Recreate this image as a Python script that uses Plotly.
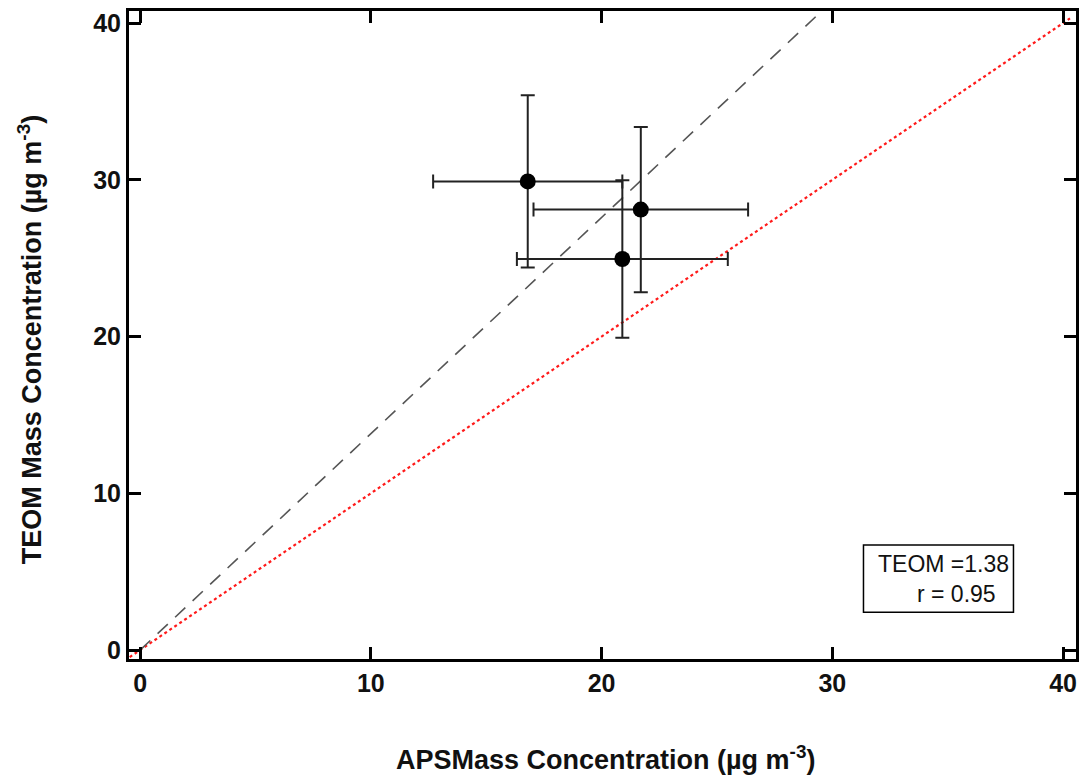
import plotly.graph_objects as go

# Data
aps_mass = [16.8, 21.7, 20.9]
teom_mass = [29.9, 28.1, 24.95]
aps_err = [4.1, 4.65, 4.57]
teom_err = [5.5, 5.27, 5.03]
slope = 1.38
r_value = 0.95
line_x = [-0.45, 40.3]
fit_x = [0.0, 29.6]
tick_vals = [0, 10, 20, 30, 40]

fig = go.Figure()

# 1:1 red dotted line
fig.add_trace(go.Scatter(
    x=line_x, y=line_x, mode="lines",
    line=dict(color="#ff1a1a", width=2.2, dash="dot"),
    hoverinfo="skip", showlegend=False))

# Fit line (dashed gray)
fig.add_trace(go.Scatter(
    x=fit_x, y=[slope * v for v in fit_x], mode="lines",
    line=dict(color="#555555", width=1.6, dash="14px,10px"),
    hoverinfo="skip", showlegend=False))

# Points with error bars
fig.add_trace(go.Scatter(
    x=aps_mass, y=teom_mass, mode="markers",
    marker=dict(color="black", size=16),
    error_x=dict(type="data", array=aps_err, color="#222222", thickness=2, width=7),
    error_y=dict(type="data", array=teom_err, color="#222222", thickness=2, width=7),
    showlegend=False))

axis_common = dict(
    showline=True, linecolor="black", linewidth=3, mirror="allticks",
    ticks="inside", ticklen=12, tickwidth=3, tickcolor="black",
    showgrid=False, zeroline=False, automargin=False,
    tickvals=tick_vals,
    tickfont=dict(family="Liberation Sans, Arial", size=25, color="#111111", weight="bold"),
)

fig.update_layout(
    width=1080, height=768,
    margin=dict(l=121, r=12, t=3, b=117),
    paper_bgcolor="white", plot_bgcolor="white",
    xaxis=dict(range=[-0.48, 40.56], **axis_common),
    yaxis=dict(range=[-0.57, 40.77], **axis_common),
    font=dict(family="Liberation Sans, Arial", color="black"),
)

# Axis titles
fig.add_annotation(
    text="<b>APSMass Concentration (µg m<sup>-3</sup>)</b>",
    xref="paper", yref="paper", x=0.503, y=-0.153, xanchor="center", yanchor="middle",
    showarrow=False, font=dict(size=27, color="#111111"))
fig.add_annotation(
    text="<b>TEOM Mass Concentration (µg m<sup>-3</sup>)</b>",
    xref="paper", yref="paper", x=-0.1045, y=0.492, xanchor="center", yanchor="middle",
    textangle=-90, showarrow=False, font=dict(size=27, color="#111111"))

# Stats box
fig.add_shape(type="rect", xref="x", yref="y",
              x0=31.35, x1=37.85, y0=2.42, y1=6.7,
              line=dict(color="black", width=1.5), fillcolor="white")
fig.add_annotation(text="TEOM =%.2f" % slope, xref="x", yref="y",
                   x=37.75, y=5.5, xanchor="right", yanchor="middle",
                   showarrow=False, font=dict(size=23, color="#111111"))
fig.add_annotation(text="r = %.2f" % r_value, xref="x", yref="y",
                   x=37.2, y=3.6, xanchor="right", yanchor="middle",
                   showarrow=False, font=dict(size=23, color="#111111"))

fig.write_html("out.html")
